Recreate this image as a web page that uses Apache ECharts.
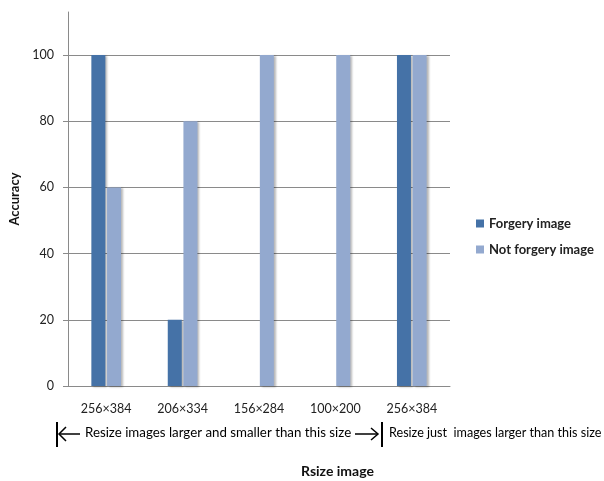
<!DOCTYPE html>
<html>
<head>
<meta charset="utf-8">
<script src="https://cdn.jsdelivr.net/npm/echarts@6/dist/echarts.min.js"></script>
<style>
  html, body { margin: 0; padding: 0; background: #fff; }
  #chart { width: 604px; height: 481px; }
</style>
</head>
<body>
<div id="chart"></div>
<script>
const categories = ['256×384', '206×334', '156×284', '100×200', '256×384'];
const forgery = [100, 20, 0, 0, 100];
const notForgery = [60, 80, 100, 100, 100];
const yTicks = [0, 20, 40, 60, 80, 100];

const FONT = 'Lato';
const barShadow = {
  shadowColor: 'rgba(0,0,0,0.28)',
  shadowBlur: 2,
  shadowOffsetX: 2,
  shadowOffsetY: 1
};

const chart = echarts.init(document.getElementById('chart'));

chart.setOption({
  animation: false,
  textStyle: { fontFamily: FONT },
  grid: { left: 68, right: 154, top: 12, bottom: 95, containLabel: false },
  legend: {
    orient: 'vertical',
    left: 471,
    top: 212,
    itemWidth: 8,
    itemHeight: 8,
    itemGap: 13,
    icon: 'rect',
    textStyle: { fontFamily: FONT, fontSize: 13, fontWeight: 'bold', color: '#222' },
    data: ['Forgery image', 'Not forgery image']
  },
  xAxis: {
    type: 'category',
    data: categories,
    axisLine: { lineStyle: { color: '#8a8a8a' } },
    axisTick: { show: false },
    axisLabel: { margin: 16, fontSize: 12.5, color: '#222', fontFamily: FONT }
  },
  yAxis: {
    type: 'value',
    min: 0,
    max: 113,
    interval: 20,
    name: 'Accuracy',
    nameLocation: 'middle',
    nameGap: 43,
    nameTextStyle: { fontSize: 13, fontWeight: 'bold', color: '#111', fontFamily: FONT },
    axisLine: { show: true, lineStyle: { color: '#8a8a8a' } },
    axisTick: { show: true, inside: false, length: 5, lineStyle: { color: '#8a8a8a' } },
    axisLabel: {
      margin: 14,
      fontSize: 12.5,
      color: '#222',
      showMaxLabel: false,
      formatter: v => (yTicks.indexOf(v) >= 0 ? String(v) : '')
    },
    splitLine: { show: true, showMaxLine: false, lineStyle: { color: '#8a8a8a' } }
  },
  series: [
    {
      name: 'Forgery image',
      type: 'bar',
      data: forgery,
      barWidth: 14,
      barGap: '12%',
      itemStyle: Object.assign({ color: '#4572A7' }, barShadow)
    },
    {
      name: 'Not forgery image',
      type: 'bar',
      data: notForgery,
      barWidth: 14,
      barGap: '12%',
      itemStyle: Object.assign({ color: '#93A9CF' }, barShadow)
    }
  ],
  graphic: [
    // left bracket with arrow
    { type: 'line', shape: { x1: 57, y1: 422, x2: 57, y2: 447 }, style: { stroke: '#000', lineWidth: 2 } },
    { type: 'polyline', shape: { points: [[66, 427], [59, 434], [66, 441]] }, style: { stroke: '#000', lineWidth: 1.5, fill: null } },
    { type: 'line', shape: { x1: 59, y1: 434, x2: 80, y2: 434 }, style: { stroke: '#000', lineWidth: 1.5 } },
    {
      type: 'text', left: 85, top: 426,
      style: { text: 'Resize images larger and smaller than this size', font: '13.3px Lato', fill: '#000' }
    },
    // arrow to right bracket
    { type: 'line', shape: { x1: 355, y1: 434, x2: 378, y2: 434 }, style: { stroke: '#000', lineWidth: 1.5 } },
    { type: 'polyline', shape: { points: [[371, 428], [378, 434], [371, 440]] }, style: { stroke: '#000', lineWidth: 1.5, fill: null } },
    { type: 'line', shape: { x1: 382, y1: 422, x2: 382, y2: 447 }, style: { stroke: '#000', lineWidth: 2 } },
    {
      type: 'text', left: 389, top: 426,
      style: { text: 'Resize just  images larger than this size', font: '12.6px Lato', fill: '#000' }
    },
    {
      type: 'text', left: 301, top: 464,
      style: { text: 'Rsize image', font: 'bold 14px Lato', fill: '#111' }
    }
  ]
});
</script>
</body>
</html>
